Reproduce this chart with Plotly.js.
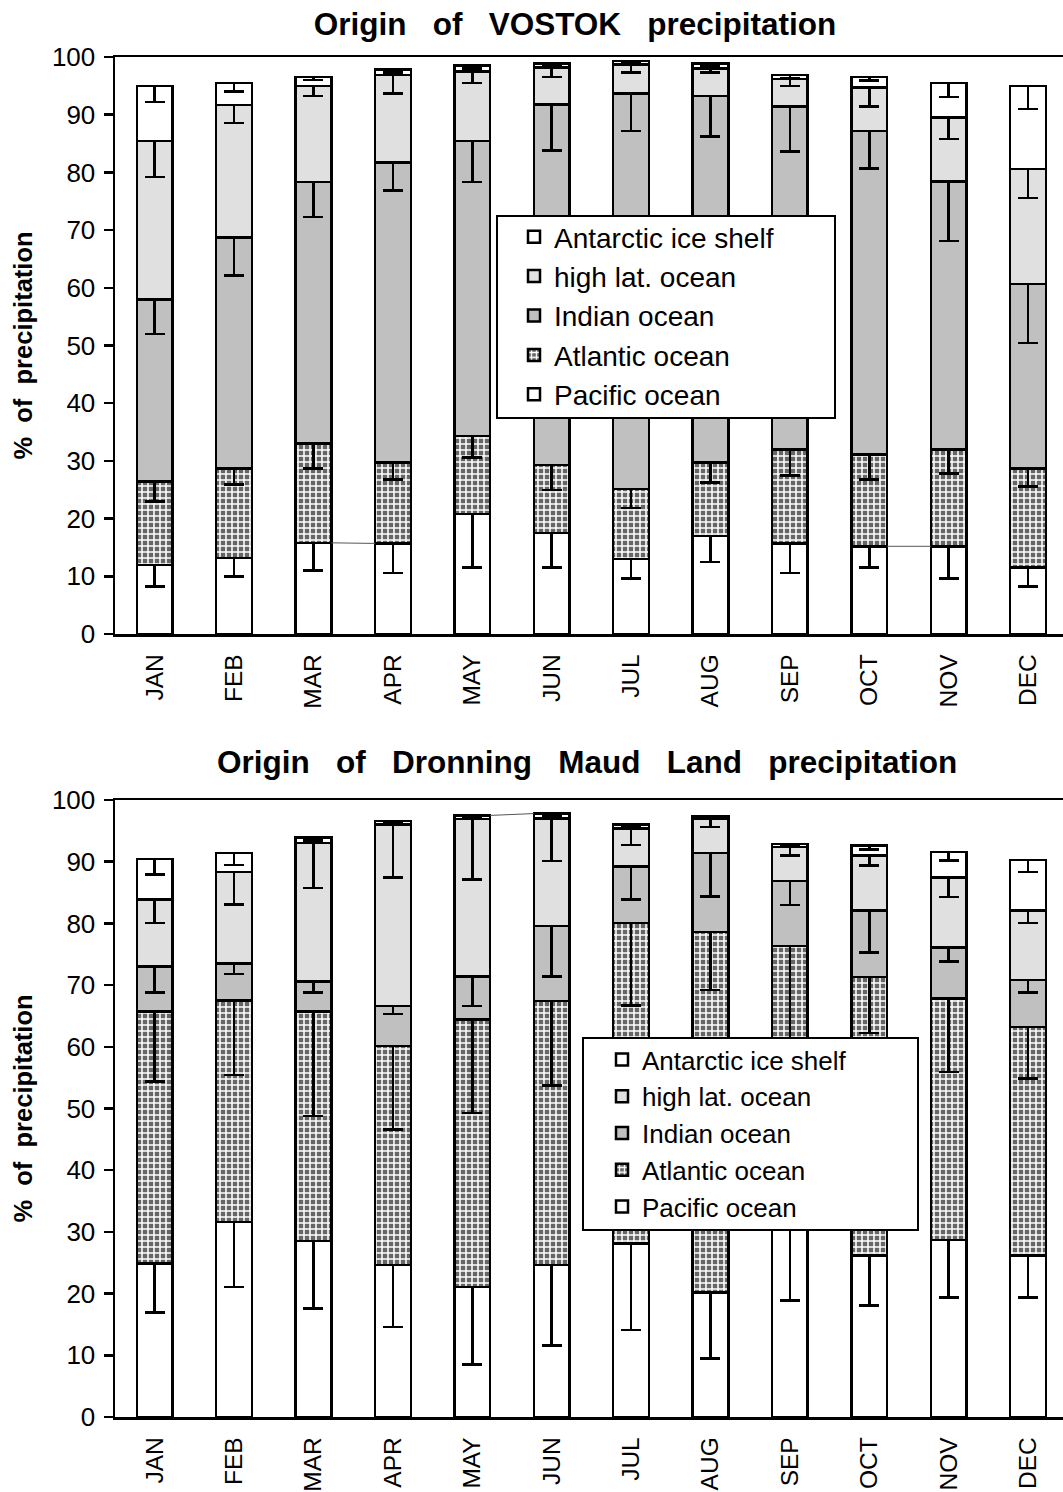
<!DOCTYPE html>
<html><head><meta charset="utf-8">
<script src="https://cdn.plot.ly/plotly-3.0.1.min.js"></script>
<style>body{margin:0;background:#fff}#chart{width:1063px;height:1492px}</style>
</head><body><div id="chart"></div>
<script>
// ---------- data ----------
const months = ['JAN','FEB','MAR','APR','MAY','JUN','JUL','AUG','SEP','OCT','NOV','DEC'];
const sources = ['Pacific ocean','Atlantic ocean','Indian ocean','high lat. ocean','Antarctic ice shelf'];

// Origin of VOSTOK precipitation (% per source, stacked bottom->top)
const vostokPacific   = [12.0,13.2,15.8,15.7,20.8,17.5,13.0,17.0,15.7,15.2,15.2,11.5];
const vostokAtlantic  = [14.4,15.5,17.2,14.0,13.5,11.8,12.1,12.7,16.3,15.9,16.8,17.2];
const vostokIndian    = [31.6,40.0,45.3,52.0,51.1,62.5,68.6,63.5,59.4,56.1,46.4,32.0];
const vostokHighLat   = [27.4,23.0,16.7,15.2,12.1, 6.4, 5.0, 4.8, 4.8, 7.5,11.1,19.9];
const vostokAntarctic = [ 9.6, 3.8, 1.5, 0.9, 1.0, 0.7, 0.6, 0.9, 0.7, 1.8, 6.0,14.4];
// lower error (std) of each source
const vostokPacificErr   = [3.8,3.2,4.8,5.1,9.3,6.0,3.4,4.5,5.1,3.7,5.6,3.3];
const vostokAtlanticErr  = [3.4,2.8,4.3,2.9,3.7,4.3,3.3,3.4,4.5,4.3,4.2,3.1];
const vostokIndianErr    = [6.0,6.6,6.0,4.8,7.1,8.0,6.5,7.0,7.8,6.5,10.3,10.3];
const vostokHighLatErr   = [6.2,3.1,1.8,3.2,2.0,1.7,1.4,0.7,1.2,3.3,3.7,5.0];
const vostokAntarcticErr = [2.8,1.5,0.5,0.5,0.5,0.3,0.3,0.5,0.5,0.6,2.4,4.0];

// Origin of Dronning Maud Land precipitation
const dmlPacific   = [24.9,31.6,28.5,24.6,21.1,24.6,28.1,20.2,33.0,26.2,28.7,26.2];
const dmlAtlantic  = [40.8,35.9,37.2,35.5,43.3,42.8,52.0,58.4,43.3,45.1,39.1,37.0];
const dmlIndian    = [ 7.3, 6.0, 4.9, 6.5, 7.0,12.2, 9.1,12.8,10.6,10.8, 8.3, 7.6];
const dmlHighLat   = [10.9,14.8,22.4,29.4,25.5,17.4, 6.2, 5.5, 5.5, 8.9,11.3,11.3];
const dmlAntarctic = [ 6.5, 3.1, 0.9, 0.6, 0.6, 0.8, 0.6, 0.4, 0.5, 1.6, 4.2, 8.2];
const dmlPacificErr   = [8.0,10.5,10.9,10.0,12.6,13.0,14.0,10.7,14.1,8.1,9.3,6.8];
const dmlAtlanticErr  = [11.3,12.1,16.9,13.5,15.1,13.7,13.4,9.4,15.0,9.1,11.9,8.3];
const dmlIndianErr    = [4.2,1.7,1.8,1.3,4.8,8.2,5.3,7.0,3.9,6.8,2.3,2.0];
const dmlHighLatErr   = [3.8,5.2,7.3,8.6,9.8,6.9,2.7,1.3,1.4,1.6,3.1,2.0];
const dmlAntarcticErr = [2.5,1.9,0.5,0.3,0.3,0.5,0.4,0.3,0.3,0.6,1.4,2.0];

// ---------- styling ----------
const W = 1063, H = 1492;
const FONT = 'Liberation Sans, Arial, Helvetica, sans-serif';
const BARW = 0.45;
const fills = {
  'Pacific ocean': {color:'#ffffff'},
  'Atlantic ocean': {color:'#777777', pattern:{shape:'+', fgcolor:'#ffffff', bgcolor:'#666666', size:6, solidity:0.45}},
  'Indian ocean': {color:'#c0c0c0'},
  'high lat. ocean': {color:'#e0e0e0'},
  'Antarctic ice shelf': {color:'#ffffff'}
};
const idx = months.map((m,i)=>i);

function chartTraces(vals, errs, xa, ya, leg){
  return sources.map((s,j)=>{
    const f = fills[s];
    const marker = {color:f.color, line:{color:'#000', width:2.5}};
    if (f.pattern) marker.pattern = f.pattern;
    return {
      type:'bar', name:s, x:idx, y:vals[j], width:BARW,
      xaxis:xa, yaxis:ya, legend:leg, marker:marker,
      error_y:{type:'data', symmetric:false, array:vals[j].map(()=>0), arrayminus:errs[j],
               color:'#000', thickness:2.5, width:10},
      hoverinfo:'x+y+name'
    };
  });
}

const topVals = [vostokPacific,vostokAtlantic,vostokIndian,vostokHighLat,vostokAntarctic];
const topErrs = [vostokPacificErr,vostokAtlanticErr,vostokIndianErr,vostokHighLatErr,vostokAntarcticErr];
const botVals = [dmlPacific,dmlAtlantic,dmlIndian,dmlHighLat,dmlAntarctic];
const botErrs = [dmlPacificErr,dmlAtlanticErr,dmlIndianErr,dmlHighLatErr,dmlAntarcticErr];

function cumTop(vals, level, i){ let s=0; for(let k=0;k<=level;k++) s+=vals[k][i]; return s; }
// thin Excel "series lines" visible in the original between some adjacent bars
function seriesLine(vals, level, i, xa, ya){
  return {type:'scatter', mode:'lines', x:[i+BARW/2, i+1-BARW/2],
    y:[cumTop(vals,level,i), cumTop(vals,level,i+1)], xaxis:xa, yaxis:ya,
    line:{color:'#555', width:1}, showlegend:false, hoverinfo:'skip'};
}

const data = [
  ...chartTraces(topVals, topErrs, 'x', 'y', 'legend'),
  ...chartTraces(botVals, botErrs, 'x2', 'y2', 'legend2'),
  seriesLine(topVals, 0, 2, 'x', 'y'),
  seriesLine(topVals, 0, 9, 'x', 'y'),
  seriesLine(botVals, 4, 4, 'x2', 'y2')
];

const px = v => v / W, py = v => 1 - v / H;
const xCommon = {
  domain:[px(115), 1], range:[-0.5, 11.44], tickvals:idx, ticktext:months,
  tickangle:-90, ticks:'', showline:true, linecolor:'#000', linewidth:2.5, mirror:true,
  showgrid:false, zeroline:false, tickfont:{family:FONT, size:24.5, color:'#000'},
  ticklabelstandoff:8, fixedrange:true
};
const yCommon = {
  range:[0,100], dtick:10, ticks:'outside', ticklen:9, tickwidth:2.5, tickcolor:'#000',
  showline:true, linecolor:'#000', linewidth:2.5, showgrid:false, zeroline:false,
  tickfont:{family:FONT, size:26, color:'#000'}, ticklabelstandoff:3, fixedrange:true,
  title:{text:'%\u00a0\u00a0of\u00a0\u00a0precipitation', font:{family:FONT, size:25.5, color:'#000', weight:'bold'}, standoff:12}
};
const legCommon = {
  bgcolor:'rgba(0,0,0,0)', borderwidth:0, traceorder:'reversed',
  xanchor:'left', yanchor:'top', itemclick:false, itemdoubleclick:false
};

const layout = {
  width:W, height:H, margin:{l:0,r:0,t:0,b:0},
  paper_bgcolor:'#fff', plot_bgcolor:'rgba(0,0,0,0)',
  barmode:'stack', font:{family:FONT, color:'#000'},
  title:{text:'Origin\u00a0\u00a0\u00a0of\u00a0\u00a0\u00a0VOSTOK\u00a0\u00a0\u00a0precipitation',
    font:{family:FONT, size:31.5, weight:'bold', color:'#000'},
    x:px(575), xanchor:'center', y:py(24), yanchor:'middle', xref:'paper', yref:'paper'},
  xaxis:{...xCommon, anchor:'y'},
  yaxis:{...yCommon, domain:[py(634), py(57)], anchor:'x'},
  xaxis2:{...xCommon, anchor:'y2'},
  yaxis2:{...yCommon, domain:[py(1417), py(800)], anchor:'x2'},
  legend:{...legCommon, x:px(514), y:py(212), font:{family:FONT, size:28, color:'#000'}},
  legend2:{...legCommon, x:px(602), y:py(1036), font:{family:FONT, size:26, color:'#000'}},
  shapes:[
    {type:'rect', xref:'paper', yref:'paper', x0:px(497), x1:px(835), y0:py(418), y1:py(216),
     fillcolor:'#fff', line:{color:'#000', width:2}, layer:'above'},
    {type:'rect', xref:'paper', yref:'paper', x0:px(583), x1:px(918), y0:py(1230), y1:py(1038),
     fillcolor:'#fff', line:{color:'#000', width:2}, layer:'above'}
  ],
  annotations:[
    {text:'Origin\u00a0\u00a0\u00a0of\u00a0\u00a0\u00a0Dronning\u00a0\u00a0\u00a0Maud\u00a0\u00a0\u00a0Land\u00a0\u00a0\u00a0precipitation',
     xref:'paper', yref:'paper', x:px(587), y:py(762), xanchor:'center', yanchor:'middle',
     showarrow:false, font:{family:FONT, size:31.5, weight:'bold', color:'#000'}}
  ],
  showlegend:true
};

Plotly.newPlot('chart', data, layout, {staticPlot:true, displayModeBar:false});
</script></body></html>
